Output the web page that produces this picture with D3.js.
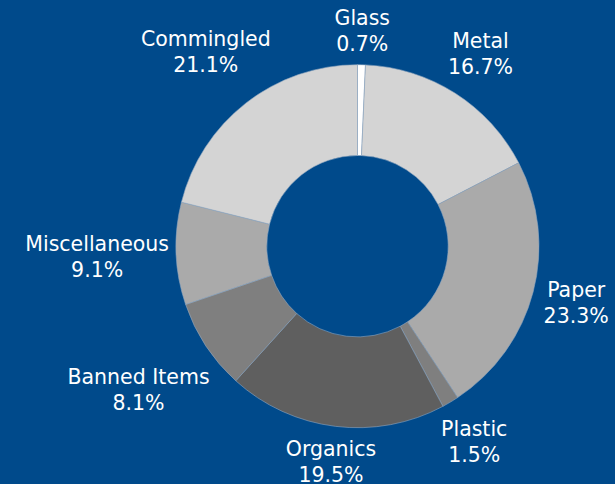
<!DOCTYPE html>
<html>
<head>
<meta charset="utf-8">
<script src="https://cdn.jsdelivr.net/npm/d3@7"></script>
<style>
  html, body { margin: 0; padding: 0; background: #004a8b; }
  svg { display: block; }
</style>
</head>
<body>
<div id="chart"></div>
<script>
// waste composition, clockwise from 12 o'clock
var categories = ["Glass", "Metal", "Paper", "Plastic", "Organics", "Banned Items", "Miscellaneous", "Commingled"];
var shares = [0.7, 16.7, 23.3, 1.5, 19.5, 8.1, 9.1, 21.1];
var sliceColors = ["#ffffff", "#d4d4d4", "#aaaaaa", "#7f7f7f", "#5f5f5f", "#7f7f7f", "#aaaaaa", "#d4d4d4"];

var svgWidth = 615, svgHeight = 484;
var cx = 357.5, cy = 246.2;
var outerR = 181.5, innerR = 90.7;

var data = categories.map(function(c, i) {
    return { name: c, value: shares[i], color: sliceColors[i] };
});

var svg = d3.select("#chart")
    .append("svg")
    .attr("width", svgWidth)
    .attr("height", svgHeight);

svg.append("rect")
    .attr("width", svgWidth)
    .attr("height", svgHeight)
    .attr("fill", "#004a8b");

var chartGroup = svg.append("g")
    .attr("transform", `translate(${cx}, ${cy})`);

var pie = d3.pie()
    .value(d => d.value)
    .sort(null);

var arc = d3.arc()
    .innerRadius(innerR)
    .outerRadius(outerR);

var arcs = pie(data);

chartGroup.selectAll("path.slice")
    .data(arcs)
    .enter()
    .append("path")
    .attr("class", "slice")
    .attr("d", arc)
    .attr("fill", d => d.data.color)
    .attr("stroke", "#8fa6bf")
    .attr("stroke-width", 0.6);

// labels: two lines in a box, pushed out along the slice's mid angle
// until the box clears the ring by `gap`
var fontSize = 20.5, lineGap = 26, gap = 7, halfH = 27;
var font = "'DejaVu Sans', 'Open Sans', sans-serif";

var labels = chartGroup.selectAll("g.label")
    .data(arcs)
    .enter()
    .append("g")
    .attr("class", "label");

labels.append("text")
    .attr("class", "name")
    .attr("text-anchor", "middle")
    .attr("y", -lineGap / 2 + 7)
    .style("font-family", font)
    .style("font-size", fontSize + "px")
    .style("fill", "#ffffff")
    .text(d => d.data.name);

labels.append("text")
    .attr("class", "pct")
    .attr("text-anchor", "middle")
    .attr("y", lineGap / 2 + 7)
    .style("font-family", font)
    .style("font-size", fontSize + "px")
    .style("fill", "#ffffff")
    .text(d => d.data.value.toFixed(1) + "%");

function boxDistance(x, y, hw, hh) {
    var dx = Math.max(Math.abs(x) - hw, 0);
    var dy = Math.max(Math.abs(y) - hh, 0);
    return Math.sqrt(dx * dx + dy * dy);
}

labels.attr("transform", function(d) {
    var a = (d.startAngle + d.endAngle) / 2;
    var s = Math.sin(a), c = -Math.cos(a);
    var g = d3.select(this);
    var w = Math.max(g.select(".name").node().getComputedTextLength(),
                     g.select(".pct").node().getComputedTextLength());
    var hw = w / 2;
    // bisection on the distance of the box centre
    var lo = 0, hi = 600;
    for (var k = 0; k < 50; k++) {
        var mid = (lo + hi) / 2;
        if (boxDistance(mid * s, mid * c, hw, halfH) < outerR + gap) lo = mid; else hi = mid;
    }
    return `translate(${lo * s}, ${lo * c})`;
});
</script>
</body>
</html>
